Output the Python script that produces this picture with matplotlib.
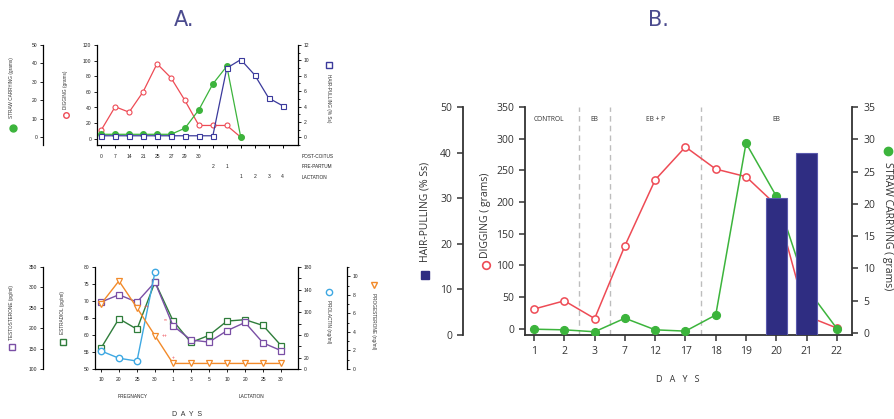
"""Nest-building behaviour and hormone profiles (panels A and B)."""

import matplotlib

matplotlib.use("Agg")
import matplotlib.pyplot as plt
import numpy as np
from matplotlib.lines import Line2D
from matplotlib.ticker import MultipleLocator

W, H = 895, 419

# ---------------- Panel A (top): behaviour around coitus / partum / lactation
a_top_post_coitus = ["0", "7", "14", "21", "25", "27", "29", "30"]
a_top_pre_partum = ["2", "1"]
a_top_lactation = ["1", "2", "3", "4"]
a_top_digging = [11, 41, 34, 60, 96, 78, 49, 17, 17, 17, 2]
a_top_straw = [1.6, 1.6, 1.6, 1.6, 1.6, 1.6, 4.9, 14.9, 28.9, 38.5, 0]
a_top_hair = [0.2, 0.2, 0.2, 0.2, 0.2, 0.2, 0.2, 0.2, 0.2, 9.0, 10.1, 8.1, 5.1, 4.1]

# ---------------- Panel A (bottom): hormones in pregnancy and lactation
a_bot_days = ["10", "20", "25", "30", "1", "3", "5", "10", "20", "25", "30"]
a_bot_testosterone = [264, 282, 264, 313, 206, 171, 166, 194, 214, 164, 145]
a_bot_estradiol = [56.1, 64.8, 61.7, 75.6, 64.2, 57.8, 59.9, 64.1, 64.5, 62.8, 56.9]
a_bot_prolactin = [32, 19, 14, 171]
a_bot_progesterone = [7.0, 9.5, 6.6, 3.6, 0.6, 0.6, 0.6, 0.6, 0.6, 0.6, 0.6]

# ---------------- Panel B: hormone-treated females
b_days = ["1", "2", "3", "7", "12", "17", "18", "19", "20", "21", "22"]
b_digging = [31, 44, 16, 131, 235, 287, 252, 240, 195, 20, 1]
b_straw = [0.6, 0.5, 0.2, 2.3, 0.5, 0.3, 2.8, 29.4, 21.2, 7.0, 0.7]
b_hair_days = ["20", "21"]
b_hair = [30, 40]
b_phase_names = ["CONTROL", "EB", "EB + P", "EB"]
b_phase_centers = [0.5, 2.0, 4.0, 8.0]
b_phase_bounds = [1.5, 2.5, 5.5]

RED = "#ee4b55"
GREEN = "#3cb43c"
NAVY = "#3b3a9c"
BAR = "#2f2d82"
PURPLE = "#7a4fa5"
DKGREEN = "#2f7d3b"
LTBLUE = "#3ea8e2"
ORANGE = "#f28a2a"

plt.rcParams["font.family"] = ["Liberation Sans", "DejaVu Sans"]

fig = plt.figure(figsize=(W / 100, H / 100), dpi=100)


def px_box(left, top, right, bottom):
    return [left / W, 1 - bottom / H, (right - left) / W, (bottom - top) / H]


def px_to_pt(p):
    return p * 72 / 100


def side_label(x, y, text, rot, mx, my, size, **mk):
    t = fig.text(x / W, 1 - y / H, text, rotation=rot, ha="center", va="center",
                 fontsize=size, color="#333333")
    fig.add_artist(Line2D([mx / W], [1 - my / H], transform=fig.transFigure,
                          linestyle="none", **mk))
    return t


def style_small(axis, side):
    axis.tick_params(axis="y", which="both", direction="out", labelsize=3.6,
                     colors="#222222", width=0.7, pad=2)
    axis.tick_params(axis="y", which="major", length=2.2)
    axis.tick_params(axis="y", which="minor", length=1.4)
    for s in axis.spines.values():
        s.set_visible(False)
    axis.spines[side].set_visible(True)
    axis.spines[side].set_linewidth(0.9)
    axis.yaxis.set_ticks_position(side)


# =========================== Panel A top ===================================
ax1 = fig.add_axes(px_box(97, 45, 298, 145))
x_top = np.arange(14)
ax1.plot(x_top[:len(a_top_digging)], a_top_digging, color=RED, lw=0.9, marker="o",
         ms=3.6, mfc="white", mec=RED, mew=0.8, zorder=3)
ax1.set_ylim(-8, 120)
ax1.set_yticks(np.arange(0, 121, 20))
ax1.set_xlim(-0.3, 14.1)
style_small(ax1, "left")
ax1.spines["bottom"].set_visible(True)
ax1.spines["bottom"].set_linewidth(0.9)
ax1.set_xticks(x_top)
ax1.tick_params(axis="x", direction="out", length=2, width=0.7, labelbottom=False)

ax1s = ax1.twinx()
ax1s.plot(x_top[:len(a_top_straw)], a_top_straw, color=GREEN, lw=0.9, marker="o",
          ms=4, mfc=GREEN, mec=GREEN, zorder=3)
ax1s.set_ylim(-4.2, 50)
ax1s.set_yticks(np.arange(0, 51, 10))
style_small(ax1s, "left")
ax1s.spines["left"].set_position(("outward", px_to_pt(54)))

ax1h = ax1.twinx()
ax1h.plot(x_top, a_top_hair, color=NAVY, lw=0.9, marker="s", ms=3.6,
          mfc="white", mec=NAVY, mew=0.8, zorder=3)
ax1h.set_ylim(-1, 12)
ax1h.set_yticks(np.arange(0, 13, 2))
ax1h.yaxis.set_minor_locator(MultipleLocator(1))
style_small(ax1h, "right")

xt = ax1.get_xaxis_transform()
rows = [(a_top_post_coitus, 0, -0.11, "POST-COITUS"),
        (a_top_pre_partum, 8, -0.21, "PRE-PARTUM"),
        (a_top_lactation, 10, -0.32, "LACTATION")]
for labels, start, yy, name in rows:
    for i, lab in enumerate(labels):
        ax1.text(start + i, yy, lab, transform=xt, ha="center", va="center",
                 fontsize=3.6, color="#222222")
    fig.text(302 / W, 1 - (145 - yy * 100) / H, name, ha="left", va="center",
             fontsize=3.4, color="#222222")

side_label(12, 88, "STRAW CARRYING (grams)", 90, 13, 128, 3.4,
           marker="o", ms=5, mfc=GREEN, mec=GREEN)
side_label(66, 90, "DIGGING (grams)", 90, 66, 115, 3.4,
           marker="o", ms=4, mfc="white", mec=RED, mew=1)
side_label(329, 98, "HAIR-PULLING (% Ss)", 270, 329, 65, 3.4,
           marker="s", ms=4, mfc="white", mec=NAVY, mew=1)

# =========================== Panel A bottom ================================
ax2 = fig.add_axes(px_box(95, 267, 298, 369))
x_bot = np.arange(len(a_bot_days))
ax2.plot(x_bot, a_bot_estradiol, color=DKGREEN, lw=1.0, marker="s", ms=3.8,
         mfc="white", mec=DKGREEN, mew=0.9, zorder=3)
ax2.set_ylim(50, 80)
ax2.set_yticks(np.arange(50, 81, 5))
ax2.set_xlim(-0.33, 10.94)
style_small(ax2, "left")
ax2.spines["bottom"].set_visible(True)
ax2.spines["bottom"].set_linewidth(0.9)
ax2.set_xticks(x_bot, a_bot_days)
ax2.tick_params(axis="x", direction="out", length=2, width=0.7, labelsize=3.6,
                pad=3.5, colors="#222222")

ax2t = ax2.twinx()
ax2t.plot(x_bot, a_bot_testosterone, color=PURPLE, lw=1.0, marker="s", ms=3.8,
          mfc="white", mec=PURPLE, mew=0.9, zorder=4)
ax2t.set_ylim(100, 350)
ax2t.set_yticks(np.arange(100, 351, 50))
style_small(ax2t, "left")
ax2t.spines["left"].set_position(("outward", px_to_pt(52)))

ax2p = ax2.twinx()
ax2p.plot(x_bot[:len(a_bot_prolactin)], a_bot_prolactin, color=LTBLUE, lw=1.0,
          marker="o", ms=4.6, mfc="white", mec=LTBLUE, mew=1.0, zorder=3)
ax2p.set_ylim(0, 180)
prl_ticks = np.arange(0, 181, 20)
ax2p.set_yticks(prl_ticks, [str(v) if v in (0, 20, 60, 100, 140, 180) else ""
                            for v in prl_ticks])
style_small(ax2p, "right")

ax2g = ax2.twinx()
ax2g.plot(x_bot, a_bot_progesterone, color=ORANGE, lw=1.0, marker="v", ms=3.8,
          mfc="white", mec=ORANGE, mew=0.9, zorder=3)
ax2g.set_ylim(0, 11)
ax2g.set_yticks(np.arange(0, 11, 2))
ax2g.yaxis.set_minor_locator(MultipleLocator(1))
style_small(ax2g, "right")
ax2g.spines["right"].set_position(("outward", px_to_pt(49)))

# significance marks beside the progesterone curve
for idx, mark, dx, dy in [(2, "++", 5, 1), (3, "++", 5, 0), (4, "+", 0, 4)]:
    ax2g.annotate(mark, (idx, a_bot_progesterone[idx]), xytext=(dx, dy),
                  textcoords="offset points", fontsize=3.6, color=RED,
                  ha="left" if dx else "center", va="center")
ax2.annotate("**", (4, a_bot_estradiol[4]), xytext=(-5, 0), textcoords="offset points",
             fontsize=3.6, color=RED, ha="center", va="center")

fig.text(133 / W, 1 - 396 / H, "PREGNANCY", ha="center", va="center",
         fontsize=3.4, color="#222222")
fig.text(252 / W, 1 - 396 / H, "LACTATION", ha="center", va="center",
         fontsize=3.4, color="#222222")
fig.text(187 / W, 1 - 414 / H, "D  A  Y  S", ha="center", va="center",
         fontsize=5, color="#333333")

side_label(12, 312, "TESTOSTERONE (pg/ml)", 90, 12, 347, 3.4,
           marker="s", ms=4, mfc="white", mec=PURPLE, mew=1)
side_label(63, 313, "ESTRADIOL (pg/ml)", 90, 63, 342, 3.4,
           marker="s", ms=4, mfc="white", mec=DKGREEN, mew=1)
side_label(329, 322, "PROLACTIN (ng/ml)", 270, 329, 292, 3.4,
           marker="o", ms=4.5, mfc="white", mec=LTBLUE, mew=1)
side_label(374, 321, "PROGESTERONE (ng/ml)", 270, 374, 285, 3.4,
           marker="v", ms=4.5, mfc="white", mec=ORANGE, mew=1)

# =========================== Panel B =======================================
bfont = ["Open Sans", "DejaVu Sans"]
bsize = 7.5
axb = fig.add_axes(px_box(525, 107, 852, 335))
xb = np.arange(len(b_days))
for b in b_phase_bounds:
    axb.axvline(b, color="#bdbdbd", lw=1.0, ls=(0, (4, 3)), zorder=1)
axb.plot(xb, b_digging, color=RED, lw=1.1, marker="o", ms=5.2, mfc="white",
         mec=RED, mew=1.1, zorder=3)
axb.set_ylim(-10, 350)
axb.set_yticks(np.arange(0, 351, 50))
axb.set_xlim(-0.3, 10.5)
axb.set_xticks(xb, b_days)
for s in ("top", "right"):
    axb.spines[s].set_visible(False)
for s in ("left", "bottom"):
    axb.spines[s].set_linewidth(1.3)
    axb.spines[s].set_color("#333333")
axb.tick_params(direction="out", length=4, width=1.1, labelsize=bsize,
                colors="#333333", pad=4)
for lab in axb.get_xticklabels() + axb.get_yticklabels():
    lab.set_family(bfont)

for name, cx in zip(b_phase_names, b_phase_centers):
    axb.text(cx, 0.945, name, transform=axb.get_xaxis_transform(), ha="center",
             va="center", fontsize=4.8, color="#333333", family=bfont)

axs = axb.twinx()
axs.plot(xb, b_straw, color=GREEN, lw=1.1, marker="o", ms=5.6, mfc=GREEN,
         mec=GREEN, zorder=3)
axs.set_ylim(-0.3, 35)
axs.set_yticks(np.arange(0, 36, 5))
for s in ("top", "left", "bottom"):
    axs.spines[s].set_visible(False)
axs.spines["right"].set_linewidth(1.3)
axs.spines["right"].set_color("#333333")
axs.tick_params(direction="out", length=4, width=1.1, labelsize=bsize,
                colors="#333333", pad=4)
for lab in axs.get_yticklabels():
    lab.set_family(bfont)

axh = axb.twinx()
axh.bar([b_days.index(d) for d in b_hair_days], b_hair, width=0.7, color=BAR,
        edgecolor="#5a59ad", linewidth=0.8, zorder=4)
axh.set_ylim(0, 50)
axh.set_yticks(np.arange(0, 51, 10))
for s in ("top", "right", "bottom"):
    axh.spines[s].set_visible(False)
axh.spines["left"].set_visible(True)
axh.spines["left"].set_position(("outward", px_to_pt(62)))
axh.spines["left"].set_linewidth(1.3)
axh.spines["left"].set_color("#333333")
axh.yaxis.set_ticks_position("left")
axh.tick_params(direction="out", length=4, width=1.1, labelsize=bsize,
                colors="#333333", pad=4)
for lab in axh.get_yticklabels():
    lab.set_family(bfont)

fig.text(678 / W, 1 - 379 / H, "D   A   Y   S", ha="center", va="center",
         fontsize=6.5, color="#333333", family=bfont)

for t in (
    side_label(425, 212, "HAIR-PULLING (% Ss)", 90, 425, 275, 7.5,
               marker="s", ms=6, mfc=BAR, mec=BAR),
    side_label(486, 215, "DIGGING ( grams)", 90, 486, 265, 7.5,
               marker="o", ms=5.5, mfc="white", mec=RED, mew=1.2),
    side_label(888, 226, "STRAW CARRYING ( grams)", 270, 888, 151, 7.5,
               marker="o", ms=6, mfc=GREEN, mec=GREEN),
):
    t.set_family(bfont)

# panel letters
fig.text(184 / W, 1 - 20 / H, "A.", ha="center", va="center", fontsize=15,
         color="#4b4b8e", family=["Liberation Sans Narrow", "DejaVu Sans"])
fig.text(658 / W, 1 - 20 / H, "B.", ha="center", va="center", fontsize=15,
         color="#4b4b8e", family=["Liberation Sans Narrow", "DejaVu Sans"])

fig.savefig("out.png", dpi=100)
